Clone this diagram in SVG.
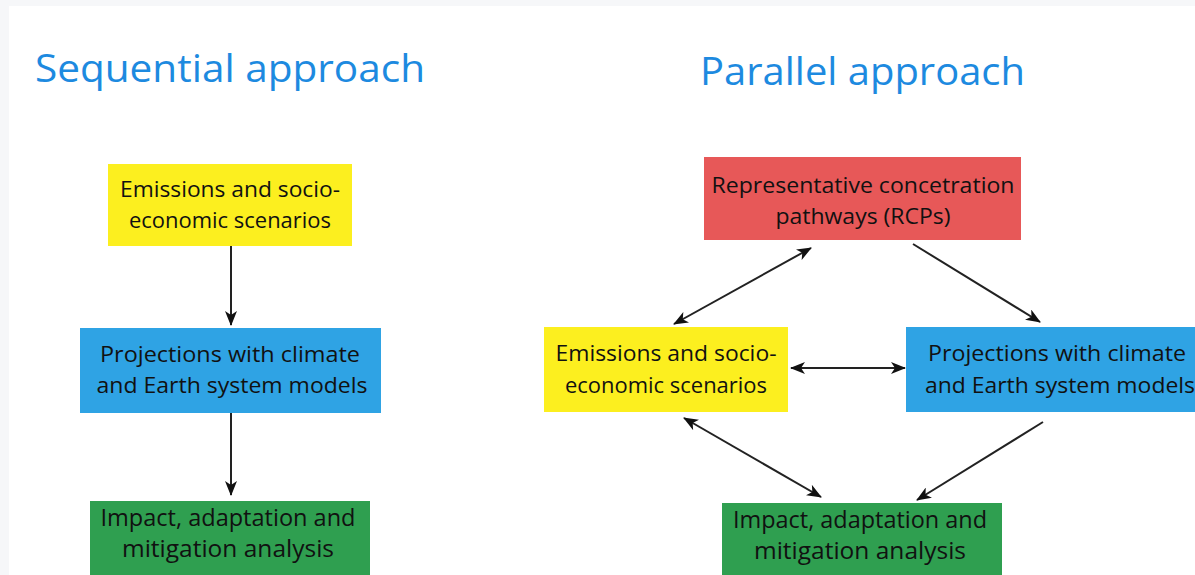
<svg xmlns="http://www.w3.org/2000/svg" width="1195" height="575" viewBox="0 0 1195 575">
<defs>
<marker id="ah" viewBox="0 0 15 12" refX="14" refY="6" markerWidth="15" markerHeight="12" markerUnits="userSpaceOnUse" orient="auto-start-reverse">
<path d="M0,0 L15,6 L0,12 L4,6 z" fill="#111"/>
</marker>
<style>
.title{font-family:"Open Sans","DejaVu Sans",sans-serif;font-size:38px;fill:#1d8ae0}
.lbl{font-family:"Open Sans","DejaVu Sans",sans-serif;font-size:22px;fill:#111;text-anchor:middle}
.tall{font-size:24px}
.yel{fill:#fcef1f}
.blu{fill:#2fa3e4}
.grn{fill:#2f9f50}
.red{fill:#e75858}
.con{stroke:#222;stroke-width:2;fill:none}
</style>
</defs>
<rect x="0" y="0" width="1195" height="575" fill="#f6f7f9"/>
<rect x="9" y="6" width="1186" height="569" fill="#ffffff"/>
<text class="title" x="35" y="82" textLength="390" lengthAdjust="spacingAndGlyphs">Sequential approach</text>
<text class="title" x="700" y="85" textLength="325" lengthAdjust="spacingAndGlyphs">Parallel approach</text>
<g id="connectors">
<line class="con" x1="231" y1="246" x2="231" y2="325" marker-end="url(#ah)"/>
<line class="con" x1="231" y1="413" x2="231" y2="495" marker-end="url(#ah)"/>
<line class="con" x1="674" y1="324" x2="811" y2="248" marker-start="url(#ah)" marker-end="url(#ah)"/>
<line class="con" x1="913" y1="244" x2="1040" y2="322" marker-end="url(#ah)"/>
<line class="con" x1="791" y1="368" x2="905" y2="368" marker-start="url(#ah)" marker-end="url(#ah)"/>
<line class="con" x1="684" y1="418" x2="821" y2="497" marker-start="url(#ah)" marker-end="url(#ah)"/>
<line class="con" x1="1043" y1="422" x2="917" y2="500" marker-end="url(#ah)"/>
</g>
<g id="seq-emissions">
<rect class="yel" x="108" y="164" width="244" height="82"/>
<text class="lbl" x="230" y="197" textLength="220" lengthAdjust="spacingAndGlyphs">Emissions and socio-</text>
<text class="lbl" x="230" y="228" textLength="202" lengthAdjust="spacingAndGlyphs">economic scenarios</text>
</g>
<g id="seq-projections">
<rect class="blu" x="80" y="328" width="301" height="85"/>
<text class="lbl" x="230" y="362" textLength="260" lengthAdjust="spacingAndGlyphs">Projections with climate</text>
<text class="lbl" x="232" y="393" textLength="271" lengthAdjust="spacingAndGlyphs">and Earth system models</text>
</g>
<g id="seq-impact">
<rect class="grn" x="90" y="501" width="280" height="74"/>
<text class="lbl tall" x="228" y="526" textLength="255" lengthAdjust="spacingAndGlyphs">Impact, adaptation and</text>
<text class="lbl tall" x="228" y="557" textLength="212" lengthAdjust="spacingAndGlyphs">mitigation analysis</text>
</g>
<g id="par-rcp">
<rect class="red" x="704" y="157" width="317" height="83"/>
<text class="lbl" x="863" y="193" textLength="303" lengthAdjust="spacingAndGlyphs">Representative concetration</text>
<text class="lbl" x="863" y="224" textLength="175" lengthAdjust="spacingAndGlyphs">pathways (RCPs)</text>
</g>
<g id="par-emissions">
<rect class="yel" x="544" y="327" width="244" height="85"/>
<text class="lbl" x="666" y="361" textLength="221" lengthAdjust="spacingAndGlyphs">Emissions and socio-</text>
<text class="lbl" x="666" y="393" textLength="202" lengthAdjust="spacingAndGlyphs">economic scenarios</text>
</g>
<g id="par-projections">
<rect class="blu" x="906" y="327" width="300" height="85"/>
<text class="lbl" x="1057" y="361" textLength="258" lengthAdjust="spacingAndGlyphs">Projections with climate</text>
<text class="lbl" x="1060" y="393" textLength="270" lengthAdjust="spacingAndGlyphs">and Earth system models</text>
</g>
<g id="par-impact">
<rect class="grn" x="722" y="503" width="280" height="72"/>
<text class="lbl tall" x="860" y="528" textLength="254" lengthAdjust="spacingAndGlyphs">Impact, adaptation and</text>
<text class="lbl tall" x="860" y="559" textLength="212" lengthAdjust="spacingAndGlyphs">mitigation analysis</text>
</g>
</svg>
